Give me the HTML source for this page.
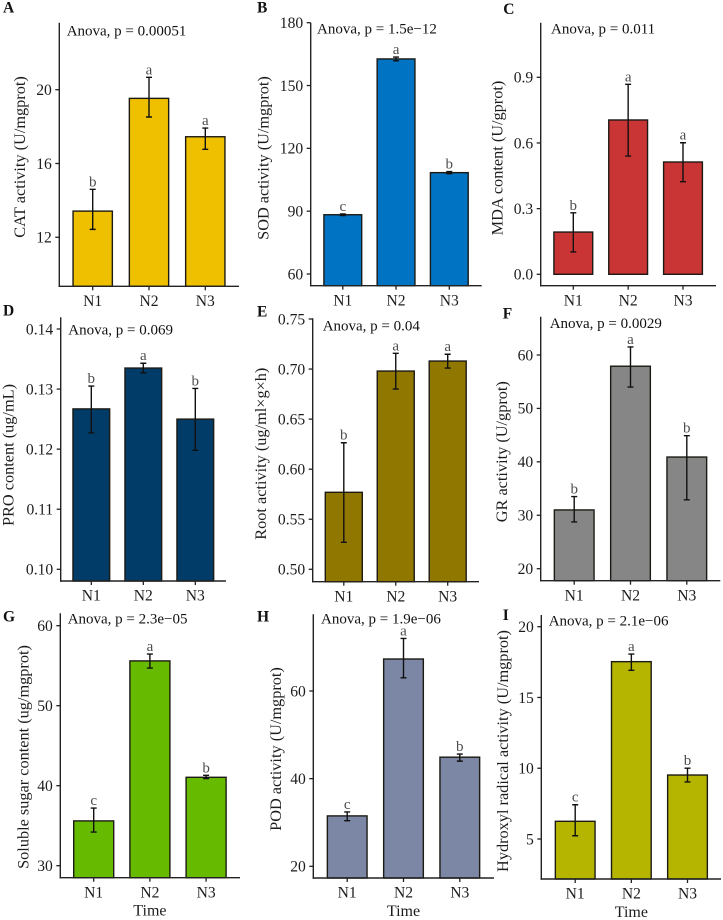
<!DOCTYPE html>
<html lang="en">
<head>
<meta charset="utf-8">
<title>Physiological indices bar chart panels</title>
<style>
  html, body { margin: 0; padding: 0; background: #fff; }
  body { width: 723px; height: 920px; overflow: hidden; }
  svg { display: block; font-family: "Liberation Serif", serif; }
  text { fill: #1c1c1c; }
</style>
</head>
<body>
<svg id="figure" xmlns="http://www.w3.org/2000/svg" width="723" height="920" viewBox="0 0 723 920"></svg>
<script>
const categories = ['N1', 'N2', 'N3'];

const catMeans = [13.42, 19.53, 17.45];
const catUpper = [14.6, 20.67, 17.92];
const catLower = [12.43, 18.52, 16.77];
const catSig = ['b', 'a', 'a'];
const catTicks = ['12', '16', '20'];

const sodMeans = [88.3, 162.7, 108.4];
const sodUpper = [88.7, 163.6, 108.9];
const sodLower = [87.9, 161.8, 107.9];
const sodSig = ['c', 'a', 'b'];
const sodTicks = ['60', '90', '120', '150', '180'];

const mdaMeans = [0.193, 0.705, 0.513];
const mdaUpper = [0.281, 0.868, 0.601];
const mdaLower = [0.102, 0.54, 0.423];
const mdaSig = ['b', 'a', 'a'];
const mdaTicks = ['0.0', '0.3', '0.6', '0.9'];

const proMeans = [0.1267, 0.1335, 0.125];
const proUpper = [0.1305, 0.1343, 0.1301];
const proLower = [0.1227, 0.1327, 0.1198];
const proSig = ['b', 'a', 'b'];
const proTicks = ['0.10', '0.11', '0.12', '0.13', '0.14'];

const rootMeans = [0.5769, 0.698, 0.708];
const rootUpper = [0.6264, 0.7157, 0.7148];
const rootLower = [0.527, 0.68, 0.701];
const rootSig = ['b', 'a', 'a'];
const rootTicks = ['0.50', '0.55', '0.60', '0.65', '0.70', '0.75'];

const grMeans = [31, 57.9, 40.9];
const grUpper = [33.5, 61.5, 44.9];
const grLower = [28.75, 54, 32.9];
const grSig = ['b', 'a', 'b'];
const grTicks = ['20', '30', '40', '50', '60'];

const sugarMeans = [35.6, 55.6, 41.05];
const sugarUpper = [37.2, 56.45, 41.3];
const sugarLower = [34.2, 54.7, 40.9];
const sugarSig = ['c', 'a', 'b'];
const sugarTicks = ['30', '40', '50', '60'];

const podMeans = [31.5, 67.3, 44.9];
const podUpper = [32.4, 72, 45.6];
const podLower = [30.4, 63, 44];
const podSig = ['c', 'a', 'b'];
const podTicks = ['20', '40', '60'];

const hydroxylMeans = [6.25, 17.53, 9.52];
const hydroxylUpper = [7.42, 18.07, 10];
const hydroxylLower = [5.23, 16.92, 9.03];
const hydroxylSig = ['c', 'a', 'b'];
const hydroxylTicks = ['5', '10', '15', '20'];

const svg = document.getElementById('figure');
const NS = 'http://www.w3.org/2000/svg';

function make(tag, parent, attrs, content) {
  const el = document.createElementNS(NS, tag);
  for (const k in attrs) el.setAttribute(k, attrs[k]);
  if (content !== undefined) el.textContent = content;
  parent.appendChild(el);
  return el;
}

function drawPanel(p) {
  const y = v => p.py0 + (v - p.v0) * (p.py1 - p.py0) / (p.v1 - p.v0);
  const x = i => p.cx0 + i * p.step;
  const floor = p.barFloor === undefined ? p.base : y(p.barFloor);

  const g = make('g', svg, {});
  
  

  const letter = make('text', g, { x: p.letterX, y: p.letterY, 'font-size': 15.5, 'font-weight': 'bold', style: 'fill:#111' }, p.letter);
  
  

  p.means.forEach((m, i) => {
    const top = y(m);
    const bar = make('rect', g, {
      x: x(i) - p.barW / 2, y: top, width: p.barW, height: floor - top,
      fill: p.color, stroke: '#1d1a14', 'stroke-width': 1.4
    });
    
    
  });

  p.means.forEach((m, i) => {
    const hi = y(p.upper[i]);
    const lo = y(p.lower[i]);
    const cx = x(i);
    const d = 'M' + (cx - 3) + ' ' + hi + 'H' + (cx + 3) + 'M' + cx + ' ' + hi + 'V' + lo + 'M' + (cx - 3) + ' ' + lo + 'H' + (cx + 3);
    const err = make('path', g, { d: d, fill: 'none', stroke: '#111', 'stroke-width': 1.4 });
    
    

    const sig = make('text', g, { x: cx, y: hi - 3, 'text-anchor': 'middle', 'font-size': 15, style: 'fill:#4d4d4d' }, p.sig[i]);
    
    
  });

  const yAxis = make('line', g, { x1: p.ax, x2: p.ax, y1: p.top, y2: p.base + 0.7, stroke: '#222', 'stroke-width': 1.4 });
  
  

  const xAxis = make('line', g, { x1: p.ax - 0.7, x2: p.right, y1: p.base, y2: p.base, stroke: '#222', 'stroke-width': 1.4 });
  
  

  p.ticks.forEach(t => {
    const ty = y(parseFloat(t));
    const tick = make('line', g, { x1: p.ax - 4, x2: p.ax, y1: ty, y2: ty, stroke: '#222', 'stroke-width': 1.3 });
    
    

    const label = make('text', g, { x: p.ax - 7.5, y: ty + 5.3, 'text-anchor': 'end', 'font-size': 15.6 }, t);
    
    
  });

  categories.forEach((c, i) => {
    const tick = make('line', g, { x1: x(i), x2: x(i), y1: p.base, y2: p.base + 4, stroke: '#222', 'stroke-width': 1.3 });
    
    

    const label = make('text', g, { x: x(i), y: p.base + 19.7, 'text-anchor': 'middle', 'font-size': 15.6 }, c);
    
    
  });

  const title = make('text', g, {
    x: 0, y: 0, 'text-anchor': 'middle', 'font-size': 16.3,
    transform: 'translate(' + p.titleX + ' ' + p.titleY + ') rotate(-90)'
  }, p.title);
  
  

  const note = make('text', g, { x: p.noteX, y: p.noteY, 'font-size': 15, style: 'fill:#111' }, p.note);
  
  

  if (p.showX) {
    const xt = make('text', g, { x: x(1), y: p.base + 38, 'text-anchor': 'middle', 'font-size': 16 }, 'Time');
    
    
  }
}

drawPanel({ key: 'cat', letter: 'A', letterX: 3, letterY: 12.7, means: catMeans, upper: catUpper, lower: catLower, sig: catSig, ticks: catTicks,
  color: '#EFC000', title: 'CAT activity (U/mgprot)', note: 'Anova, p = 0.00051',
  ax: 59.3, base: 286.3, top: 22.7, right: 239, v0: 12, py0: 237.3, v1: 20, py1: 89.7,
  cx0: 92.7, step: 56.3, barW: 39.3, titleX: 25, titleY: 157, noteX: 66.7, noteY: 35.7 });

drawPanel({ key: 'sod', letter: 'B', letterX: 257, letterY: 12.7, means: sodMeans, upper: sodUpper, lower: sodLower, sig: sodSig, ticks: sodTicks,
  color: '#0073C2', title: 'SOD activity (U/mgprot)', note: 'Anova, p = 1.5e\u221212',
  ax: 310.7, base: 285.7, top: 22.7, right: 481.7, v0: 60, py0: 274, v1: 180, py1: 22.7,
  cx0: 342.8, step: 53.25, barW: 37.8, titleX: 268.7, titleY: 158, noteX: 317, noteY: 33.3 });

drawPanel({ key: 'mda', letter: 'C', letterX: 503.3, letterY: 14, means: mdaMeans, upper: mdaUpper, lower: mdaLower, sig: mdaSig, ticks: mdaTicks,
  color: '#C93434', title: 'MDA content (U/gprot)', note: 'Anova, p = 0.011',
  ax: 540.7, base: 285.7, top: 22.7, right: 716, v0: 0, py0: 274.3, v1: 0.9, py1: 77.3, barFloor: 0,
  cx0: 573.3, step: 54.85, barW: 38.8, titleX: 502.7, titleY: 158, noteX: 551, noteY: 33.7 });

drawPanel({ key: 'pro', letter: 'D', letterX: 3, letterY: 315.7, means: proMeans, upper: proUpper, lower: proLower, sig: proSig, ticks: proTicks,
  color: '#003C67', title: 'PRO content (ug/mL)', note: 'Anova, p = 0.069',
  ax: 60.7, base: 581, top: 317.3, right: 226, v0: 0.10, py0: 569.3, v1: 0.14, py1: 329,
  cx0: 91.3, step: 52, barW: 36.7, titleX: 13.3, titleY: 455, noteX: 68.3, noteY: 334.7 });

drawPanel({ key: 'root', letter: 'E', letterX: 257, letterY: 316.7, means: rootMeans, upper: rootUpper, lower: rootLower, sig: rootSig, ticks: rootTicks,
  color: '#8F7700', title: 'Root activity (ug/ml\u00D7g\u00D7h)', note: 'Anova, p = 0.04',
  ax: 312.7, base: 581.7, top: 318.3, right: 479, v0: 0.50, py0: 569.3, v1: 0.75, py1: 319,
  cx0: 343.8, step: 51.95, barW: 37, titleX: 266, titleY: 453.7, noteX: 322.7, noteY: 330.7 });

drawPanel({ key: 'gr', letter: 'F', letterX: 502.7, letterY: 318.7, means: grMeans, upper: grUpper, lower: grLower, sig: grSig, ticks: grTicks,
  color: '#868686', title: 'GR activity (U/gprot)', note: 'Anova, p = 0.0029',
  ax: 540.7, base: 580.7, top: 316.7, right: 720.3, v0: 20, py0: 568.7, v1: 60, py1: 355,
  cx0: 574.2, step: 56.3, barW: 39.7, titleX: 507, titleY: 451.7, noteX: 549.7, noteY: 328 });

drawPanel({ key: 'sugar', letter: 'G', letterX: 3, letterY: 621.7, means: sugarMeans, upper: sugarUpper, lower: sugarLower, sig: sugarSig, ticks: sugarTicks,
  color: '#66BB00', title: 'Soluble sugar content (ug/mgprot)', note: 'Anova, p = 2.3e\u221205',
  ax: 60.3, base: 877.7, top: 613.3, right: 240, v0: 30, py0: 865.7, v1: 60, py1: 625.7,
  cx0: 93.7, step: 56.2, barW: 40, titleX: 28.3, titleY: 757, noteX: 67.7, noteY: 623.7, showX: true });

drawPanel({ key: 'pod', letter: 'H', letterX: 257, letterY: 621.7, means: podMeans, upper: podUpper, lower: podLower, sig: podSig, ticks: podTicks,
  color: '#7C87A6', title: 'POD activity (U/mgprot)', note: 'Anova, p = 1.9e\u221206',
  ax: 313.3, base: 878, top: 614.3, right: 494, v0: 20, py0: 866.3, v1: 60, py1: 691,
  cx0: 347.2, step: 56.3, barW: 39.7, titleX: 281, titleY: 749, noteX: 321, noteY: 623.7, showX: true });

drawPanel({ key: 'hydroxyl', letter: 'I', letterX: 502.7, letterY: 620, means: hydroxylMeans, upper: hydroxylUpper, lower: hydroxylLower, sig: hydroxylSig, ticks: hydroxylTicks,
  color: '#B5B500', title: 'Hydroxyl radical activity (U/mgprot)', note: 'Anova, p = 2.1e\u221206',
  ax: 541.3, base: 879, top: 615, right: 721, v0: 5, py0: 839, v1: 20, py1: 626.7,
  cx0: 575.2, step: 56.15, barW: 39.7, titleX: 508, titleY: 751, noteX: 548.7, noteY: 625.7, showX: true });
</script>
</body>
</html>
